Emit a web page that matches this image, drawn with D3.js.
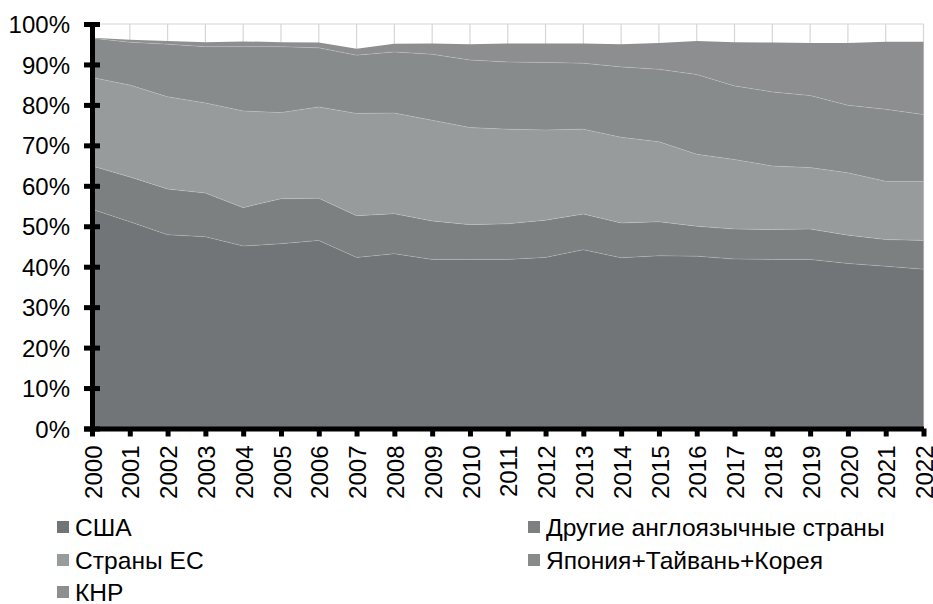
<!DOCTYPE html>
<html>
<head>
<meta charset="utf-8">
<script src="https://cdn.jsdelivr.net/npm/d3@7"></script>
<style>
  body { margin: 0; background: #fff; }
  svg text { font-family: "Liberation Sans", Arial, sans-serif; fill: #000; }
</style>
</head>
<body>
<div id="chart"></div>
<script>
// shares, % of total
const years = d3.range(2000, 2023);
const usa   = [54.2,51.1,47.9,47.4,45.1,45.7,46.5,42.3,43.2,41.8,41.8,41.8,42.3,44.2,42.2,42.7,42.6,41.9,41.8,41.8,40.8,40.1,39.4];
const anglo = [10.7,11.1,11.3,10.8,9.5,11.1,10.4,10.3,9.9,9.5,8.6,8.8,9.2,8.8,8.6,8.4,7.4,7.4,7.4,7.5,7.0,6.6,7.1];
const eu    = [21.9,22.7,22.8,22.3,23.9,21.3,22.6,25.3,24.9,24.9,24.0,23.4,22.3,21.0,21.2,19.8,17.8,17.2,15.7,15.2,15.4,14.4,14.6];
const jtk   = [9.7,10.6,13.0,13.9,15.9,16.3,14.6,14.4,15.1,16.3,16.7,16.6,16.7,16.3,17.4,17.9,19.7,18.2,18.3,17.8,16.7,17.8,16.5];
const prc   = [0.1,0.6,0.8,1.1,1.3,1.1,1.3,1.6,2.0,2.7,3.9,4.6,4.7,4.9,5.6,6.5,8.3,10.8,12.2,13.0,15.4,16.7,18.0];
const yTicks = d3.range(0, 101, 10);

const seriesNames = ["США", "Другие англоязычные страны", "Страны ЕС", "Япония+Тайвань+Корея", "КНР"];
const seriesKeys = ["usa", "anglo", "eu", "jtk", "prc"];
const colors = ["#727578", "#7d8081", "#989b9c", "#888b8c", "#8d8e90"];

const width = 933, height = 604;
const margin = { top: 24, right: 9.5, bottom: 175.5, left: 92 };

const table = years.map((yr, i) => ({
  year: yr, usa: usa[i], anglo: anglo[i], eu: eu[i], jtk: jtk[i], prc: prc[i]
}));
const stacked = d3.stack().keys(seriesKeys)(table);

const x = d3.scaleLinear()
  .domain([years[0], years[years.length - 1]])
  .range([margin.left, width - margin.right]);
const y = d3.scaleLinear()
  .domain([0, 100])
  .range([height - margin.bottom, margin.top]);

const svg = d3.select("#chart").append("svg")
  .attr("width", width)
  .attr("height", height);

// light grid: verticals at each year + top line
svg.append("g")
  .selectAll("line")
  .data(years)
  .join("line")
  .attr("x1", d => x(d)).attr("x2", d => x(d))
  .attr("y1", y(100)).attr("y2", y(0))
  .attr("stroke", "#d6d6d6")
  .attr("stroke-width", 1.2);
svg.append("line")
  .attr("x1", x(years[0])).attr("x2", x(years[years.length - 1]))
  .attr("y1", y(100)).attr("y2", y(100))
  .attr("stroke", "#d6d6d6")
  .attr("stroke-width", 1.2);

const area = d3.area()
  .x(d => x(d.data.year))
  .y0(d => y(d[0]))
  .y1(d => y(d[1]));
const topLine = d3.line()
  .x(d => x(d.data.year))
  .y(d => y(d[1]));

svg.append("g")
  .selectAll("path")
  .data(stacked)
  .join("path")
  .attr("fill", (d, i) => colors[i])
  .attr("d", area);

// faint separators between layers
svg.append("g")
  .selectAll("path")
  .data(stacked.slice(0, 4))
  .join("path")
  .attr("fill", "none")
  .attr("stroke", "rgba(255,255,255,0.22)")
  .attr("stroke-width", 0.8)
  .attr("d", topLine);

// y axis
const yg = svg.append("g")
  .attr("transform", `translate(${margin.left},0)`)
  .call(d3.axisLeft(y)
    .tickValues(yTicks)
    .tickFormat(d => d + "%")
    .tickSize(8)
    .tickPadding(14));
yg.select(".domain").attr("stroke", "#000").attr("stroke-width", 5);
yg.selectAll(".tick line").attr("x1", 8).attr("stroke", "#000").attr("stroke-width", 5);
yg.selectAll(".tick text").style("font-size", "24px").attr("dy", "0.36em");

// x axis
const xg = svg.append("g")
  .attr("transform", `translate(0,${y(0)})`)
  .call(d3.axisBottom(x)
    .tickValues(years)
    .tickFormat(d3.format("d"))
    .tickSize(8)
    .tickSizeOuter(0));
xg.select(".domain").attr("stroke", "#000").attr("stroke-width", 5);
xg.selectAll(".tick line").attr("stroke", "#000").attr("stroke-width", 5);
xg.selectAll(".tick text")
  .style("font-size", "24px")
  .style("text-anchor", "end")
  .attr("transform", "rotate(-90)")
  .attr("x", -17)
  .attr("y", 0)
  .attr("dy", "0.38em");

// legend (two columns, filled row by row)
const legendPos = [
  { x: 57, y: 527 }, { x: 528, y: 527 },
  { x: 57, y: 560 }, { x: 528, y: 560 },
  { x: 57, y: 592 }
];
const legend = svg.append("g")
  .selectAll("g")
  .data(seriesNames)
  .join("g")
  .attr("transform", (d, i) => `translate(${legendPos[i].x},${legendPos[i].y})`);
legend.append("rect")
  .attr("x", 0).attr("y", -6)
  .attr("width", 12).attr("height", 12)
  .attr("fill", (d, i) => colors[i]);
legend.append("text")
  .attr("x", 18)
  .attr("dy", "0.36em")
  .style("font-size", "24.6px")
  .text(d => d);
</script>
</body>
</html>
